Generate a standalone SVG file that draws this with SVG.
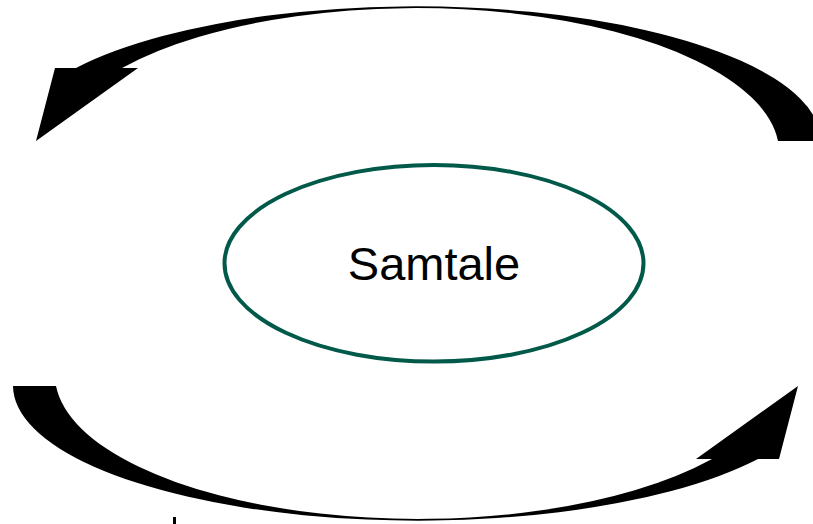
<svg xmlns="http://www.w3.org/2000/svg" width="813" height="524" viewBox="0 0 813 524">
  <defs>
    <style>
      .arrow { fill: #000000; stroke: none; }
      .node { fill: #ffffff; stroke: #005949; stroke-width: 4; }
      .label { font-family: "Liberation Sans", Arial, sans-serif; font-size: 47px; fill: #000000; text-anchor: middle; }
    </style>
    <path id="curvedArrow" class="arrow" d="M 821 141 A 405 135 0 0 0 76 68 L 55 68 L 36 141 L 138 68 L 122 68 A 363 144.7 0 0 1 778 141 Z"/>
  </defs>
  <rect width="813" height="524" fill="#ffffff"/>
  <g id="connectors">
    <use href="#curvedArrow"/>
    <use href="#curvedArrow" transform="rotate(180 417 263.5)"/>
  </g>
  <g id="node-samtale">
    <ellipse class="node" cx="434" cy="263.3" rx="209.5" ry="98.3"/>
    <text class="label" x="434" y="280">Samtale</text>
  </g>
  <rect x="173" y="517" width="3" height="7" fill="#000000"/>
</svg>
